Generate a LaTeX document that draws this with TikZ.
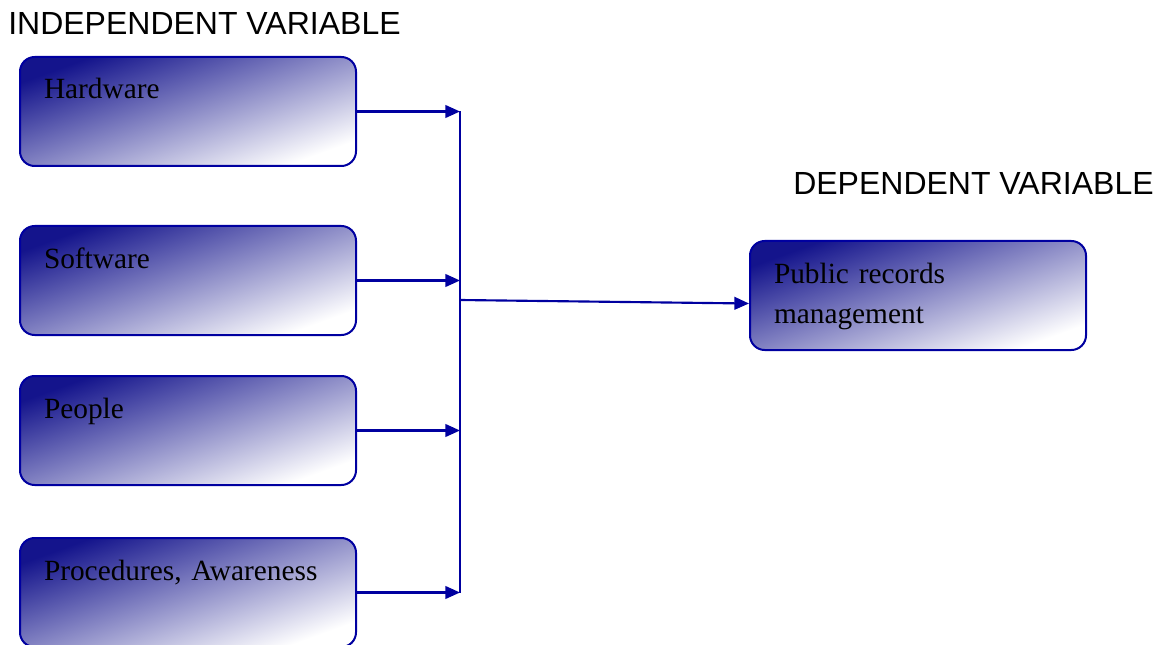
\documentclass[tikz,border=0pt]{standalone}
\usepackage{fontspec}
\setmainfont{Liberation Serif}
\newfontfamily\headfont{Liberation Sans}
\usetikzlibrary{positioning, calc}
\usetikzlibrary{arrows.meta}

\definecolor{linkblue}{RGB}{0,0,160}
\definecolor{boxnavy}{RGB}{20,20,140}

\begin{document}
\begin{tikzpicture}[
    x=0.75pt, y=0.75pt,
    varbox/.style={draw=linkblue, line width=1.5pt, rounded corners=11pt,
        top color=boxnavy, middle color=boxnavy!32!white, bottom color=white,
        shading angle=20,
        text width=216pt, align=left, inner xsep=18pt, inner ysep=0pt,
        text height=31.5pt, text depth=50.25pt, anchor=north west,
        font=\fontsize{22}{30}\selectfont},
    heading/.style={anchor=base west, inner sep=0pt, font=\headfont\fontsize{24}{28}\selectfont},
    link/.style={draw=linkblue, line width=1.6pt, -{Triangle[length=11pt,width=9.5pt]}},
    spine/.style={draw=linkblue, line width=1.6pt}
]
    \useasboundingbox (0,0) rectangle (1163,-645);

    % --- headings
    \node[heading] (indep) at (8,-35)    {INDEPENDENT VARIABLE};
    \node[heading] (dep)   at (793,-195) {DEPENDENT VARIABLE};

    % --- independent variables (left column)
    \node[varbox] (hw)   at (19,-56)  {Hardware};
    \node[varbox] (sw)   at (19,-225) {Software};
    \node[varbox] (ppl)  at (19,-375) {People};
    \node[varbox] (proc) at (19,-537) {Procedures, Awareness};

    % --- dependent variable
    \node[varbox] (prm) at (749,-240) {Public records\\management};

    % --- connectors
    \coordinate (bus) at (460,-300);
    \draw[spine] (hw.east -| bus) -- (proc.east -| bus);
    \foreach \src in {hw, sw, ppl, proc}
        \draw[link] (\src.east) -- (\src.east -| bus);
    \draw[link] (bus) -- ([yshift=-6pt]prm.west);

\end{tikzpicture}
\end{document}
